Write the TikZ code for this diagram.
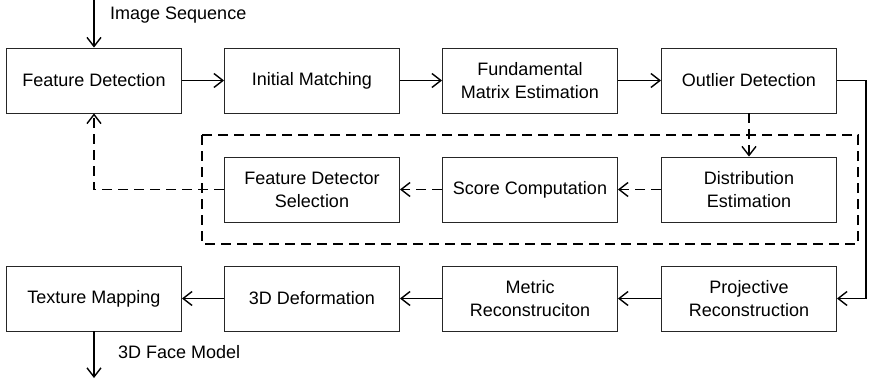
\documentclass[tikz,border=0pt]{standalone}
\usepackage{fontspec}
\setmainfont{Liberation Sans}
\usetikzlibrary{arrows.meta}
\begin{document}
\begin{tikzpicture}[x=1pt,y=-1pt,
  box/.style={draw=black!85,line width=0.9pt,minimum width=175pt,minimum height=65pt,
    inner sep=0pt,align=center,font=\fontsize{18}{23}\selectfont},
  conn/.style={line width=1.6pt,-{Straight Barb[length=9pt,width=14pt,line width=1.4pt]}},
  dconn/.style={conn,dash pattern=on 10pt off 6pt},
  lab/.style={font=\fontsize{18}{21}\selectfont,anchor=west,inner sep=0pt}]
\useasboundingbox (0,0) rectangle (870,378);
% row 1
\node[box] (fd) at (94,80.5) {Feature Detection};
\node[box] (im) at (312,80.5) {Initial Matching};
\node[box] (fm) at (530,80.5) {Fundamental\\Matrix Estimation};
\node[box] (od) at (749,80.5) {Outlier Detection};
% row 2
\node[box] (fds) at (312,189.5) {Feature Detector\\Selection};
\node[box] (sc) at (530,189.5) {Score Computation};
\node[box] (de) at (749,189.5) {Distribution\\Estimation};
% row 3
\node[box] (tm) at (94,298.5) {Texture Mapping};
\node[box] (dd) at (312,298.5) {3D Deformation};
\node[box] (mr) at (530,298.5) {Metric\\Reconstruciton};
\node[box] (pr) at (749,298.5) {Projective\\Reconstruction};
% group
\draw[line width=1.6pt,dash pattern=on 10pt off 6pt] (202,135) rectangle (858,244);
% labels
\coordinate (in) at (94,0);
\coordinate (out) at (94,378);
\coordinate (r1) at (866,80.5);
\coordinate (r2) at (866,298.5);
\node[lab] (lin) at (110,15) {Image Sequence};
\node[lab] (lout) at (118,352) {3D Face Model};
% connectors
\draw[conn] (in) -- (fd.north);
\draw[conn] (fd) -- (im);
\draw[conn] (im) -- (fm);
\draw[conn] (fm) -- (od);
\draw[line width=1.6pt] (od.east) -- (r1) -- (r2);
\draw[conn] (r2) -- (pr.east);
\draw[conn] (pr) -- (mr);
\draw[conn] (mr) -- (dd);
\draw[conn] (dd) -- (tm);
\draw[conn] (tm.south) -- (out);
\draw[dconn] (od) -- (de);
\draw[dconn] (de) -- (sc);
\draw[dconn] (sc) -- (fds);
\draw[dconn] (fds.west) -| (fd.south);
\end{tikzpicture}
\end{document}
